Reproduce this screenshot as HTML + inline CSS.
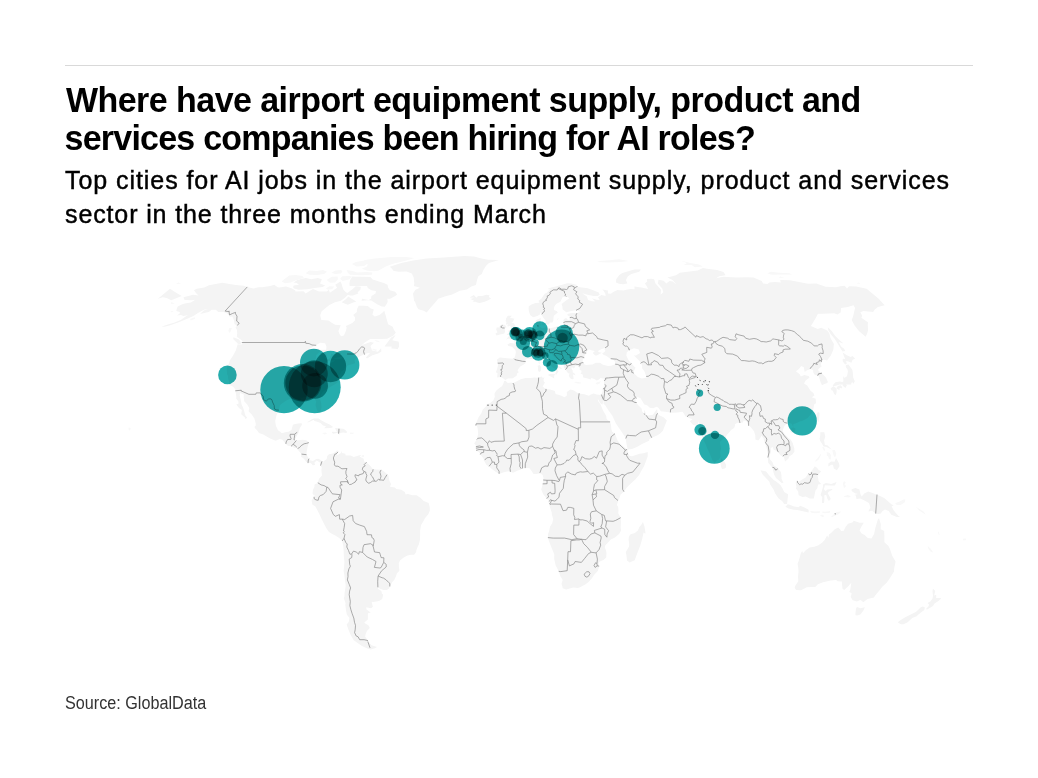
<!DOCTYPE html>
<html><head><meta charset="utf-8">
<style>
html,body{margin:0;padding:0;background:#fff;}
body{width:1038px;height:778px;position:relative;overflow:hidden;font-family:"Liberation Sans",sans-serif;color:#000;}
.rule{position:absolute;left:65px;top:65px;width:908px;height:1px;background:#d9d9d9;}
.t{position:absolute;left:65px;white-space:nowrap;font-weight:bold;font-size:34px;line-height:38px;transform:scaleY(1.03);transform-origin:0 0;}
.s{position:absolute;left:65px;white-space:nowrap;font-size:25px;line-height:32px;-webkit-text-stroke:0.45px #000;}
.src{position:absolute;left:65px;top:692.9px;font-size:18px;line-height:20px;white-space:nowrap;color:#333;transform:scaleX(0.899);transform-origin:0 0;}
.bb circle{mix-blend-mode:multiply;}
#map{isolation:isolate;}
</style></head><body>
<!--MAP--><svg id="map" width="1038" height="778" viewBox="0 0 1038 778" style="position:absolute;left:0;top:0">
<path fill="#f4f4f4" d="M183.6 297.2L193.1 294.8L198.5 295.4L196.2 293.3L193.9 290.2L196.7 288.8L204.3 287.5L209.0 285.3L222.3 282.7L229.4 283.9L235.8 285.1L243.7 285.8L247.3 286.9L253.4 288.5L258.5 287.3L262.3 287.3L270.2 286.0L274.2 284.8L277.7 287.3L279.4 287.5L286.1 286.5L292.1 288.5L295.3 290.5L295.5 291.5L303.5 291.3L305.7 293.6L309.6 291.0L313.0 289.0L319.0 291.5L326.8 291.5L328.9 289.8L329.9 292.8L337.1 287.8L335.2 284.8L340.5 281.4L341.9 284.8L342.4 287.0L343.5 289.8L345.9 292.3L347.4 293.1L352.7 289.0L355.5 286.5L360.8 286.8L360.4 289.8L357.6 292.3L358.3 293.6L353.0 295.4L350.0 295.4L347.9 294.8L344.6 297.9L340.9 300.8L335.0 302.3L329.4 305.0L325.7 307.9L321.7 311.3L320.2 315.3L321.3 320.0L328.4 320.6L331.7 322.8L335.1 324.7L340.7 325.3L338.4 331.1L339.7 334.5L341.2 336.2L343.8 335.4L345.6 331.7L346.7 327.8L345.9 326.1L352.4 323.1L354.9 320.6L355.0 317.3L353.2 315.1L356.8 311.9L357.0 309.2L358.6 305.8L363.8 305.8L367.7 306.0L370.8 308.4L373.8 309.5L372.4 314.6L374.8 316.5L379.5 315.1L382.6 312.4L384.3 310.8L385.7 315.4L386.9 320.0L388.1 324.2L392.7 326.7L393.9 329.7L395.8 332.5L393.5 335.4L387.0 338.8L380.2 339.0L370.2 339.0L364.7 342.5L360.0 346.8L357.2 348.5L362.8 344.8L370.5 341.9L374.0 342.8L370.4 345.9L371.3 348.2L372.1 350.5L377.9 351.7L381.1 348.2L381.4 351.4L378.2 353.4L372.4 355.2L367.0 358.4L365.9 357.5L370.0 353.1L367.0 353.3L364.6 354.3L360.7 356.0L356.8 357.8L354.4 360.7L355.3 363.3L352.1 364.2L349.0 365.1L345.4 366.6L344.1 369.5L341.7 371.7L340.6 370.4L340.9 373.0L339.0 375.7L337.7 377.5L337.8 379.8L337.6 382.6L334.6 384.6L331.0 386.6L327.4 388.7L322.8 392.0L320.4 396.1L320.2 399.7L321.2 402.9L321.5 407.7L320.4 411.8L318.3 412.6L316.8 409.8L315.5 405.0L316.2 401.5L314.4 398.5L313.0 398.0L310.3 399.1L307.9 397.0L304.1 397.3L300.7 397.6L300.4 400.9L297.3 400.6L294.4 399.4L289.6 399.1L286.9 400.3L282.6 402.9L279.9 405.3L278.8 410.4L276.6 415.1L275.2 421.0L275.9 425.8L278.0 430.2L280.5 432.0L281.8 433.3L286.2 432.0L288.5 431.8L291.5 429.9L292.7 425.5L293.3 424.6L298.0 423.4L301.7 423.2L302.0 424.6L299.7 428.4L298.4 432.9L297.1 435.2L294.7 439.9L296.4 440.5L299.5 440.2L302.3 439.8L306.3 440.2L308.8 442.6L307.6 447.0L306.7 451.5L306.5 454.4L308.1 457.3L309.9 460.3L312.9 460.9L315.8 459.3L318.1 458.7L320.8 460.0L322.0 461.3L320.5 465.6L319.9 462.4L316.7 460.4L314.3 462.7L315.2 464.9L312.7 465.3L311.0 463.2L308.0 462.4L306.3 461.9L303.7 458.5L301.0 456.8L301.5 454.1L298.9 450.9L296.9 448.8L297.7 447.6L294.9 447.9L291.0 446.3L287.8 445.7L285.9 443.9L282.2 439.6L279.8 439.1L275.5 440.7L270.8 438.8L267.5 437.1L263.3 434.6L259.0 432.9L257.2 430.5L254.8 428.1L254.6 426.6L255.7 425.8L255.7 423.4L254.4 418.4L251.7 414.5L248.5 411.2L249.3 408.0L247.2 404.4L244.2 401.2L243.7 397.6L243.8 394.6L240.2 392.9L239.7 395.5L241.0 401.2L241.7 405.0L242.7 406.8L243.9 410.1L244.8 413.6L245.4 415.4L247.1 417.8L245.5 419.2L244.9 417.5L241.2 414.2L241.9 410.1L239.0 408.0L236.3 404.6L238.6 403.5L238.3 401.2L236.3 398.8L236.3 396.4L235.8 393.2L235.3 390.8L235.3 389.3L233.4 387.1L231.9 386.0L229.2 384.9L229.4 382.8L228.1 378.6L227.9 375.4L227.1 374.5L226.8 370.7L226.8 367.4L229.1 363.3L229.8 360.4L233.1 355.5L235.8 350.5L237.7 344.2L241.2 344.8L242.9 342.5L242.7 341.6L240.7 339.6L236.8 336.8L237.2 333.4L236.9 329.7L235.5 327.5L237.3 325.5L234.6 324.2L233.9 320.0L232.3 316.5L229.8 316.8L228.6 314.6L226.3 313.0L223.4 311.9L218.2 311.9L215.9 309.7L211.8 309.7L208.8 311.9L206.3 312.4L200.1 314.0L203.8 310.5L208.6 308.7L203.9 309.7L197.6 313.2L193.4 315.9L187.2 318.7L178.7 322.2L171.0 325.0L165.5 326.4L161.4 326.7L168.5 324.2L174.0 322.8L180.7 320.0L186.4 315.9L188.2 315.1L183.7 315.9L180.8 315.1L177.1 315.5L179.9 313.2L179.7 311.9L176.3 311.1L176.9 308.4L177.7 306.6L182.2 304.2L185.0 303.4L190.9 302.6L195.3 299.7L191.3 300.3L185.8 300.0L184.1 299.5L183.6 297.2ZM322.0 461.3L323.4 463.2L323.3 461.5L326.7 459.1L327.2 455.9L329.0 454.3L332.9 453.5L335.8 451.7L337.2 450.1L338.0 452.0L336.4 454.1L337.1 455.0L338.6 454.4L340.7 453.2L341.4 450.9L342.0 452.9L345.3 453.8L345.7 455.6L350.7 455.6L353.7 457.1L356.3 456.2L359.6 455.3L361.6 455.3L359.5 456.5L363.7 458.8L364.1 461.5L366.4 462.4L369.8 465.3L372.7 469.1L376.3 469.4L381.1 469.7L383.9 471.2L386.9 474.1L388.4 475.3L389.3 480.6L391.1 483.9L390.0 486.8L394.9 487.4L396.2 488.9L401.3 489.7L404.8 492.1L405.6 494.5L407.9 493.9L412.7 495.3L416.6 495.2L420.4 497.7L423.7 500.9L428.7 503.0L429.8 507.7L429.8 510.7L428.3 514.2L424.9 518.3L423.7 520.7L421.1 525.1L420.1 530.4L420.1 535.4L420.0 539.6L418.8 544.6L417.7 546.7L416.2 550.5L416.3 551.7L414.1 554.7L411.1 554.7L407.5 555.5L403.7 557.6L400.0 560.6L398.8 563.2L398.9 566.5L399.4 570.7L397.0 573.3L395.9 576.6L394.2 579.9L392.3 581.9L389.8 586.5L389.2 588.4L386.8 590.1L383.6 589.9L379.6 588.6L377.9 587.3L378.2 589.0L381.4 591.1L381.9 593.8L383.2 594.4L382.2 599.1L379.0 601.1L373.3 602.0L371.6 601.7L372.9 606.7L371.1 608.2L366.3 607.3L366.5 609.4L369.6 611.7L370.8 612.6L367.9 613.2L367.9 616.7L367.9 619.6L364.5 622.2L364.5 623.1L368.6 625.4L369.8 628.0L366.9 631.1L365.5 634.6L365.2 636.8L367.9 640.5L369.0 642.5L371.5 645.3L377.1 647.1L374.8 648.3L370.8 649.4L367.3 648.6L362.0 646.1L357.6 643.0L353.8 640.2L350.9 635.4L348.5 629.7L346.6 624.5L348.7 621.9L349.4 618.1L346.8 614.6L346.0 610.3L345.3 605.0L345.6 603.2L343.8 598.2L344.4 596.4L344.7 591.7L345.7 586.1L345.6 584.3L344.7 578.4L344.4 575.4L343.6 571.0L344.1 566.5L344.4 561.8L343.8 556.1L343.7 551.7L343.3 546.4L342.2 541.0L339.2 538.1L335.7 535.7L331.4 533.4L329.0 531.9L326.2 528.0L323.4 522.4L321.7 519.2L319.1 513.6L316.2 508.0L315.4 506.5L312.3 504.5L311.6 500.6L314.1 496.8L315.0 494.2L314.0 495.6L312.5 493.6L313.0 489.7L314.5 486.8L314.5 484.4L317.3 483.3L317.8 482.7L318.9 479.1L322.0 475.6L321.4 470.6L321.7 467.4L320.5 465.6ZM389.8 266.8L401.3 262.9L413.3 260.5L426.6 258.4L443.9 257.4L464.4 256.0L474.0 256.5L481.6 258.4L488.0 259.7L498.9 260.1L489.0 262.9L485.9 266.1L483.4 270.1L481.8 274.0L478.3 276.3L477.1 279.9L475.9 285.1L471.3 286.5L466.9 289.5L459.8 290.8L452.1 294.6L444.7 296.6L438.2 298.7L435.2 302.6L430.3 307.9L426.7 312.4L423.8 310.8L418.4 309.2L416.7 306.6L415.1 302.1L414.1 300.8L413.6 297.4L413.0 293.6L415.4 289.8L420.0 287.8L413.9 286.0L414.3 283.6L414.0 281.1L413.7 277.5L411.8 273.5L406.6 271.5L398.3 271.7L393.4 270.8L392.0 268.7L389.8 266.8ZM505.4 380.1L503.3 378.6L500.7 376.9L497.1 377.5L497.5 373.3L495.9 372.3L497.4 368.0L498.0 365.1L497.6 362.5L496.8 359.8L499.8 357.6L504.9 358.1L509.5 358.5L514.1 358.7L515.3 355.5L515.8 352.3L515.6 350.5L513.3 347.9L511.5 346.5L508.4 345.9L507.5 344.2L510.4 343.0L514.7 343.5L514.1 340.5L515.8 341.5L518.5 341.0L521.6 339.3L521.8 337.1L523.8 336.5L526.3 335.6L527.3 333.9L528.6 331.3L530.1 330.6L533.4 330.0L536.0 329.4L537.2 328.7L537.6 327.2L536.9 325.5L535.7 324.0L535.6 320.8L536.6 319.8L540.8 318.0L540.5 321.4L541.6 321.7L540.2 323.3L539.5 325.5L540.0 326.9L542.2 328.3L544.6 327.8L547.3 326.7L549.2 328.6L553.5 327.5L558.1 326.1L558.9 327.2L561.4 326.9L561.5 325.8L563.6 324.7L563.4 322.5L563.3 320.6L564.0 318.9L566.2 318.1L567.7 319.8L569.6 319.9L569.8 316.5L567.7 315.4L567.4 314.0L570.2 313.2L573.7 313.1L576.9 313.2L578.8 312.2L581.3 312.0L578.6 311.3L577.8 310.0L574.3 310.5L570.3 311.3L566.3 312.3L564.4 310.8L562.6 309.2L562.4 306.6L561.5 303.9L564.8 301.6L567.5 299.5L569.2 298.7L568.1 297.2L566.2 296.6L562.5 297.2L561.5 299.5L560.4 301.8L556.9 303.4L555.1 305.2L554.1 307.3L554.0 310.0L557.0 311.3L557.8 312.7L556.2 313.8L553.9 315.7L553.5 317.8L553.3 320.8L552.4 322.5L549.8 322.5L548.9 324.4L546.3 324.4L545.5 322.5L545.8 320.8L543.5 318.1L541.8 314.9L540.6 312.2L539.9 314.6L537.3 315.9L533.1 317.3L530.1 314.9L528.9 311.3L528.6 308.9L528.8 306.3L531.6 304.4L535.5 302.9L539.4 302.7L538.5 300.8L541.3 298.7L543.1 296.1L544.9 293.6L546.8 292.8L548.5 290.8L550.3 289.5L547.4 289.0L552.0 287.3L554.8 286.8L558.5 285.8L563.1 284.6L567.2 283.2L571.4 283.5L577.5 285.1L574.0 286.5L577.4 286.7L581.9 287.5L587.8 288.3L593.2 290.3L598.7 292.6L599.7 294.8L597.6 295.9L593.7 296.1L587.5 294.8L582.2 293.3L586.9 296.6L588.1 300.0L592.0 301.3L595.3 301.6L591.9 298.3L596.6 299.7L599.7 299.9L598.0 297.2L601.4 295.1L605.7 296.1L605.3 293.6L603.7 291.0L602.3 289.4L607.9 290.5L607.9 293.6L610.9 293.8L613.3 292.0L617.4 290.0L623.5 290.5L626.1 289.8L630.6 289.0L634.6 289.3L634.4 286.5L642.7 287.8L648.1 289.0L646.7 286.0L644.9 283.6L647.2 281.4L646.9 279.0L651.4 278.7L654.1 279.2L655.5 283.6L661.0 289.8L660.6 294.8L663.3 292.3L662.3 288.5L657.8 283.6L658.5 279.7L663.7 280.7L666.3 283.6L669.6 281.1L672.7 281.6L676.6 284.8L672.6 279.9L667.4 277.5L676.0 275.2L679.8 272.8L689.5 271.5L697.7 270.5L702.9 267.9L706.8 268.7L717.0 270.1L723.5 272.1L725.5 275.2L719.2 276.3L716.1 278.2L723.3 276.8L727.2 277.1L736.8 277.5L746.8 277.3L753.5 277.5L761.7 281.1L763.1 283.6L767.4 284.1L769.5 282.4L774.9 282.1L780.8 282.4L780.2 279.9L789.8 280.2L801.6 282.4L808.0 283.8L816.3 283.6L825.7 286.8L830.8 287.0L835.9 287.3L840.4 286.3L844.6 285.8L847.0 288.5L849.1 286.3L856.1 286.5L866.6 288.8L878.7 298.7L880.9 301.3L884.7 305.2L877.9 307.1L874.5 309.7L873.2 311.9L863.4 311.1L860.3 312.2L862.2 315.7L861.4 317.8L867.9 322.2L867.8 325.5L868.0 330.6L867.0 333.9L865.6 336.8L858.9 331.1L854.6 325.5L851.7 320.0L853.0 316.8L854.3 311.3L855.1 307.9L853.5 305.2L847.7 307.1L841.1 307.9L840.7 312.4L837.4 314.6L834.2 313.2L829.2 313.5L823.1 313.8L817.9 313.8L815.9 317.8L813.5 321.7L810.9 326.1L817.7 328.9L821.2 327.8L827.2 330.6L829.4 333.4L830.6 338.2L833.9 343.9L833.3 349.7L830.8 355.5L827.0 360.4L823.5 359.5L821.8 361.6L820.8 364.5L821.7 366.3L818.1 369.2L818.6 371.0L821.6 373.0L825.9 377.5L827.9 381.9L827.2 383.1L824.4 384.0L822.0 385.2L820.5 381.9L819.2 377.5L818.4 375.4L814.9 375.1L813.4 373.0L813.1 370.1L810.4 368.9L806.6 370.4L804.7 372.0L803.8 367.2L801.2 366.0L798.9 368.9L795.9 371.3L799.7 374.2L800.8 376.6L804.5 375.1L809.0 376.3L809.4 377.8L805.6 380.4L804.0 383.4L807.2 385.5L810.3 390.5L813.6 393.2L814.4 395.5L811.8 397.3L815.7 398.8L816.0 403.2L814.1 404.4L813.2 410.1L811.6 413.6L810.4 414.8L807.7 418.1L802.1 421.0L800.4 421.3L796.6 423.1L793.3 424.3L793.3 426.9L791.7 423.7L788.6 422.8L787.2 423.4L784.6 425.5L782.8 429.9L783.2 432.0L785.7 435.2L788.9 438.5L790.6 439.4L792.8 443.2L794.3 448.5L794.4 451.7L792.3 454.4L789.2 456.5L788.4 458.8L785.1 461.5L784.0 457.6L782.6 456.2L780.6 455.6L778.8 453.2L778.5 452.0L776.8 450.9L773.4 449.4L772.9 447.0L770.7 447.9L771.1 451.5L769.4 455.9L770.0 459.4L772.4 462.1L773.7 465.6L776.6 467.1L777.9 468.5L780.9 472.1L781.4 475.0L781.6 478.9L783.4 482.7L781.7 483.0L778.6 480.3L776.0 478.0L774.1 474.4L773.2 470.9L772.5 467.7L771.2 466.2L768.2 462.7L767.9 458.2L768.2 456.2L767.5 451.5L765.9 445.6L764.1 440.8L763.5 438.2L761.4 435.8L760.0 438.2L758.3 440.5L755.4 439.6L755.3 435.2L754.1 431.4L751.9 428.4L749.8 426.3L748.1 424.9L746.5 421.0L743.4 420.4L743.0 422.5L739.8 422.8L737.3 422.8L735.0 424.3L735.0 425.8L734.1 428.1L731.1 429.9L728.7 432.9L727.2 434.6L725.0 437.9L722.5 439.6L719.9 442.0L720.7 447.0L721.0 448.2L720.1 452.3L720.6 456.5L719.0 459.4L716.6 460.6L714.9 462.9L712.5 460.6L711.3 457.5L709.5 452.9L707.4 448.8L705.5 444.1L704.0 441.1L702.3 436.7L700.4 430.8L699.7 426.9L699.2 424.3L698.7 421.0L697.9 424.0L695.3 425.6L693.2 424.9L689.8 421.3L692.5 419.2L688.9 418.1L687.3 416.9L685.2 416.3L683.9 413.6L682.4 411.8L677.5 412.4L671.4 412.7L670.4 412.4L665.1 411.8L660.8 411.2L658.4 407.7L656.6 406.8L653.1 408.3L649.8 407.7L647.1 405.3L644.3 404.4L642.5 401.5L640.6 398.2L637.5 397.0L636.7 398.2L635.4 399.4L636.2 402.3L638.0 405.0L641.6 408.6L642.1 411.2L643.8 413.6L644.4 409.8L645.7 413.0L646.0 415.1L648.5 415.4L652.9 414.8L654.8 412.1L656.5 409.8L657.1 409.0L657.6 413.0L658.6 415.1L663.5 417.2L666.9 420.4L664.7 426.0L662.9 430.8L659.9 433.7L657.0 435.5L654.1 436.7L649.5 439.1L649.1 440.8L642.0 444.1L636.9 447.0L631.9 449.1L628.2 449.4L627.3 447.6L626.4 443.2L625.6 438.5L625.0 437.0L620.9 430.8L615.9 423.4L612.4 415.7L608.2 410.1L605.4 405.6L603.5 403.8L603.7 399.7L602.6 404.1L602.4 404.7L600.3 403.2L597.7 398.5L596.7 394.5L600.4 394.9L601.5 394.3L602.3 392.3L602.8 389.9L603.7 386.6L604.4 384.0L603.6 379.5L604.4 378.4L602.8 378.6L600.6 378.1L598.2 380.1L596.6 380.4L594.5 378.9L591.3 377.9L590.8 379.5L587.6 378.4L585.6 377.9L583.2 377.5L582.7 374.5L580.5 373.6L581.5 372.2L581.4 370.4L579.7 370.1L579.8 368.5L579.2 366.9L579.1 366.1L577.0 366.0L575.3 366.0L574.6 367.7L573.2 368.6L572.2 367.2L571.9 366.9L571.4 368.6L572.9 371.0L572.5 371.9L575.1 373.9L575.3 375.4L573.9 374.5L572.8 374.8L573.4 376.3L573.6 379.1L571.9 379.2L569.9 378.1L568.8 375.4L569.6 373.6L568.2 373.3L567.1 371.9L565.8 369.8L563.7 367.3L563.8 364.8L563.4 363.0L561.3 361.6L559.0 359.8L556.2 358.4L553.3 356.3L551.3 353.1L550.2 354.6L549.2 352.6L549.6 352.0L546.5 353.1L546.6 356.0L549.5 358.1L551.3 361.3L553.7 363.0L556.0 363.0L555.4 364.2L558.0 365.7L561.7 368.3L561.3 369.2L558.6 367.3L557.3 368.9L557.1 369.5L558.6 371.6L557.3 373.3L556.2 374.8L555.3 374.2L555.6 372.7L556.2 371.3L554.9 368.6L553.5 368.0L551.8 366.4L548.6 365.0L546.7 363.5L544.1 361.6L542.6 359.8L542.1 358.4L540.9 356.8L538.8 355.7L535.6 357.5L533.6 359.2L530.8 359.0L527.5 358.4L525.5 359.8L525.5 361.6L525.7 363.0L523.4 364.7L520.2 366.6L518.3 368.9L517.6 370.4L518.8 372.3L517.1 373.6L516.6 375.7L513.8 377.6L513.1 378.2L507.8 378.4L505.4 380.1ZM597.7 398.5L598.2 401.2L600.7 404.7L601.6 407.1L602.8 410.1L606.2 416.0L606.6 418.9L610.1 421.9L611.0 424.9L611.3 429.0L612.2 431.7L615.0 433.7L617.7 440.8L619.5 442.9L622.2 445.6L625.3 447.9L627.7 450.3L627.6 452.9L628.3 453.8L629.7 456.0L632.2 456.2L636.0 455.0L639.7 453.8L643.5 453.2L647.7 451.9L647.7 456.2L646.3 460.3L644.0 466.2L641.5 470.6L639.1 475.0L635.3 479.4L633.6 480.9L629.0 485.3L626.4 488.0L623.9 491.8L620.6 494.5L619.2 498.7L617.9 501.5L616.9 505.1L618.1 506.8L618.5 510.4L618.2 513.3L620.6 517.4L620.9 522.1L620.7 528.0L621.1 530.4L619.1 534.0L614.9 537.5L610.8 539.6L607.1 543.4L605.3 545.3L604.8 547.6L606.1 550.8L606.5 553.2L606.2 557.6L603.5 560.0L599.7 561.5L598.6 563.5L599.2 566.2L597.8 571.0L594.0 575.1L591.6 578.7L588.2 582.2L585.6 584.3L580.0 587.3L577.9 587.9L573.6 587.6L571.4 587.9L566.2 589.6L563.4 588.4L562.6 588.3L562.5 587.0L561.5 583.7L562.7 580.1L560.4 576.3L558.7 571.3L555.7 565.6L554.2 559.1L554.3 554.4L551.7 548.1L549.6 542.8L547.9 537.8L548.0 534.0L549.0 531.6L550.1 526.6L552.2 523.3L553.2 519.2L551.8 514.2L551.8 512.7L550.0 507.4L549.5 504.8L549.3 501.5L548.3 500.3L546.3 498.0L543.2 494.2L541.2 489.2L542.0 486.8L542.3 485.6L542.7 483.6L543.2 480.0L543.5 478.0L542.7 475.3L540.9 473.6L539.4 473.4L536.1 474.0L533.6 474.1L531.0 470.3L529.5 468.3L526.9 468.0L524.4 468.3L521.3 468.8L520.6 469.7L517.8 470.6L513.7 472.5L513.0 472.8L510.4 471.8L508.1 471.3L503.0 472.4L499.2 474.0L495.2 471.5L490.9 468.3L489.1 466.5L486.6 465.0L484.7 461.9L483.6 458.8L480.8 455.0L478.9 451.9L476.1 450.4L475.9 448.2L475.9 445.6L474.2 443.5L476.8 439.6L478.2 433.7L477.8 429.3L477.1 426.3L475.8 425.5L476.0 423.4L478.7 416.9L481.5 413.0L482.6 409.8L485.9 406.5L486.7 404.3L490.1 403.2L493.4 400.3L494.8 397.0L494.5 393.7L496.1 390.8L500.0 387.5L502.0 386.2L503.4 383.4L504.2 381.0L505.6 380.7L507.8 382.9L511.1 382.5L513.0 383.1L515.4 381.9L516.9 381.2L520.7 379.2L525.6 378.1L530.4 378.1L534.7 377.5L536.8 377.8L538.7 377.6L541.8 376.6L542.8 377.9L544.6 377.3L543.6 379.2L543.6 381.0L544.9 382.8L544.1 384.1L542.6 386.6L545.0 388.4L546.0 388.9L550.2 389.6L554.8 391.1L555.6 394.0L560.8 395.5L564.5 397.3L566.9 395.5L566.8 392.0L570.4 389.6L574.1 390.5L576.4 392.3L579.1 393.5L584.3 394.2L588.8 395.7L590.9 394.6L593.4 393.6L596.7 394.5ZM879.0 518.3L880.8 523.9L880.7 529.2L884.2 531.0L884.4 536.6L884.4 542.2L888.5 546.1L890.0 549.0L892.2 555.8L895.6 561.5L894.3 567.7L894.0 571.4L890.0 578.1L886.9 582.5L882.3 586.7L879.4 590.5L875.0 595.8L874.0 597.6L867.5 599.1L863.3 602.3L861.0 600.3L860.2 600.0L856.9 601.4L852.7 600.3L850.7 597.0L851.7 593.2L849.3 592.0L850.3 589.6L851.0 584.9L851.3 582.8L848.0 586.4L844.2 589.9L842.5 588.7L842.0 584.3L841.8 581.6L837.8 581.3L836.1 579.9L830.8 580.4L823.0 582.2L817.9 584.3L815.3 587.0L811.4 587.0L806.8 587.3L800.9 590.2L796.2 589.9L794.7 588.1L795.1 586.1L798.3 581.3L798.0 576.9L798.5 571.8L798.3 568.0L797.6 563.8L798.9 560.3L800.1 556.1L800.7 553.5L802.3 551.1L803.0 553.2L805.8 550.2L809.6 547.6L814.3 546.7L818.0 545.5L822.3 542.5L824.6 539.9L827.1 535.4L828.4 537.8L829.0 534.5L831.6 532.5L834.5 529.5L838.1 527.5L840.3 529.5L841.1 531.0L843.7 530.7L845.5 526.9L847.6 524.2L848.7 523.5L852.4 522.4L853.7 520.7L855.8 521.6L859.5 522.7L863.8 522.7L861.4 526.6L859.6 530.4L861.6 533.4L864.6 535.1L867.8 538.1L871.5 538.4L874.1 534.0L875.3 528.0L876.5 523.9L877.9 519.2ZM170.0 288.8L175.4 292.3L181.7 295.9L171.2 300.3L166.8 297.9L162.7 297.2L157.9 298.7ZM856.9 607.0L860.5 608.2L864.9 607.3L863.3 610.8L860.4 614.4L857.2 615.5L855.5 615.2L855.5 612.3L856.0 608.8ZM932.9 588.4L935.3 591.1L934.1 595.5L936.3 594.7L936.1 597.9L939.9 597.9L941.4 598.2L938.5 601.1L934.5 603.5L933.0 605.9L926.8 609.7L926.2 608.8L928.6 606.2L929.0 604.4L927.5 602.9L930.3 601.4L932.5 598.5L933.0 595.8L932.5 591.4ZM922.8 606.4L924.9 607.6L924.3 610.0L921.6 612.0L917.2 615.5L917.3 616.1L912.2 617.9L907.7 622.2L903.6 624.2L901.1 624.2L898.0 622.8L898.6 621.6L903.9 618.1L906.7 616.4L911.7 614.1L915.8 612.0L918.0 610.0L920.8 607.3ZM851.6 489.2L855.5 488.0L859.4 489.4L860.5 494.2L861.7 496.5L864.3 493.6L868.2 491.5L871.9 492.7L876.2 494.5L880.7 496.2L884.5 498.3L888.8 502.1L891.7 504.5L893.7 505.3L891.6 506.5L893.8 510.4L896.0 513.3L898.3 515.7L900.1 517.1L896.9 517.1L891.3 514.8L888.7 510.9L885.0 509.5L882.3 511.2L880.8 513.6L878.2 513.9L875.7 513.6L872.2 510.7L868.3 511.5L870.4 507.4L869.0 503.0L864.0 500.3L860.3 498.6L856.5 498.9L855.8 495.6L854.1 495.0L857.9 493.9L854.9 493.3L851.6 490.9ZM796.4 486.8L795.6 482.4L797.1 480.9L798.9 481.8L801.7 479.7L805.7 477.4L808.1 473.8L810.6 472.1L813.0 469.1L814.8 466.2L817.2 468.0L818.4 469.7L821.2 471.2L819.1 473.8L817.3 474.7L818.2 478.0L818.5 480.9L821.1 483.9L818.1 484.4L817.3 488.3L815.5 490.6L814.7 494.2L813.8 498.6L809.7 498.6L805.7 496.5L802.6 497.1L798.6 495.3L798.2 491.5L795.9 488.6ZM760.5 470.3L766.1 471.5L769.3 475.6L773.7 480.0L776.5 481.8L780.4 485.0L782.4 488.3L784.2 492.1L788.0 494.2L787.9 496.2L787.5 500.0L787.1 503.9L784.1 503.9L782.6 501.5L778.4 498.3L775.2 493.6L773.6 489.6L770.2 484.4L769.4 481.8L765.5 477.4L762.6 474.4ZM785.4 506.8L787.8 504.3L789.6 504.8L794.1 506.5L798.6 507.3L800.2 505.8L804.4 507.4L808.6 509.8L808.6 512.4L804.1 511.5L797.4 510.1L793.6 509.8L788.6 508.6ZM823.1 484.4L825.9 483.0L831.3 484.0L836.6 482.1L834.9 485.6L830.0 485.5L824.9 485.3L823.9 489.2L825.5 490.9L827.5 489.4L832.1 488.9L832.3 489.7L828.7 491.8L827.7 493.3L829.6 496.5L830.8 498.9L828.9 500.9L827.5 498.9L826.1 494.7L824.3 495.3L824.4 500.0L824.0 503.0L822.0 503.0L822.2 497.1L820.5 495.0L821.6 492.1L822.9 487.1ZM820.3 432.3L824.3 432.3L825.3 436.7L824.1 440.2L824.8 444.7L827.7 445.6L831.8 449.7L829.6 448.5L826.1 446.7L823.5 446.4L822.2 444.1L820.2 441.1L819.6 438.8L820.3 435.2ZM836.0 457.9L839.0 463.2L839.5 466.2L838.3 468.3L836.9 470.3L833.8 468.5L833.0 464.7L831.2 464.7L828.3 466.5L828.4 463.5L831.2 461.5L834.6 461.8ZM845.9 365.1L848.4 364.5L851.4 368.6L852.4 370.1L852.9 373.6L853.2 377.5L854.8 381.3L853.4 383.7L852.3 381.9L851.3 383.1L851.2 384.6L849.8 384.6L846.9 384.6L846.2 383.4L846.8 385.5L845.4 388.0L842.8 385.7L842.8 384.4L839.7 384.6L836.5 385.5L833.0 386.5L832.8 385.2L835.4 382.2L839.7 381.6L842.2 381.9L843.4 381.5L843.2 377.5L844.0 376.0L844.2 378.1L847.0 376.3L847.4 374.5L847.9 371.6L847.5 369.5L845.8 366.9ZM845.1 364.5L847.1 363.3L845.5 361.3L847.8 361.3L851.4 362.8L852.6 359.8L855.2 358.7L852.5 356.0L850.7 356.9L846.8 355.2L842.7 352.6L843.7 355.5L845.2 359.0L842.7 358.8L842.7 361.3ZM833.1 386.6L835.3 387.5L836.7 389.3L836.6 392.6L835.7 395.2L834.1 394.0L832.9 390.8L831.5 390.2L830.6 388.4L832.1 387.2ZM836.3 388.3L837.9 386.0L840.5 385.3L842.3 386.9L841.8 388.6L839.8 387.8L839.4 390.0L837.7 389.3ZM827.8 327.2L831.7 331.1L834.9 335.4L838.9 339.6L843.5 343.5L838.6 341.9L841.3 346.8L844.1 348.8L845.3 351.1L842.5 351.4L839.5 346.8L837.0 342.5L834.2 338.2L830.6 333.9L828.3 330.3ZM818.2 412.1L819.6 413.0L819.4 416.0L818.8 420.1L818.9 422.2L816.6 419.2L815.9 417.2L816.7 414.2L817.1 413.0ZM790.1 430.2L791.7 427.8L793.7 427.5L795.6 428.7L794.8 431.4L792.6 433.1L790.5 432.3ZM721.0 457.9L723.4 460.6L724.5 461.8L726.1 465.0L725.8 467.7L724.1 468.8L722.0 469.1L721.0 466.5L720.6 463.2L720.9 460.3ZM642.9 522.1L644.5 526.6L645.4 531.9L645.3 533.7L643.6 532.5L642.1 539.3L640.2 545.8L637.6 552.3L634.7 560.3L629.6 562.4L627.0 560.6L626.5 555.7L625.8 552.0L628.9 546.7L629.3 544.3L628.6 539.9L628.8 536.9L630.2 534.5L634.8 533.1L637.9 530.4L639.4 526.9L641.5 524.5ZM505.6 339.5L509.0 338.6L510.2 339.0L513.9 337.9L515.6 337.6L518.9 337.5L521.3 336.4L521.4 335.6L519.8 335.4L522.1 332.2L521.1 331.3L519.0 331.4L518.5 329.7L518.1 329.4L518.1 328.0L515.7 326.7L515.1 325.5L514.0 323.3L511.2 322.8L512.7 321.9L513.8 319.8L514.5 318.7L510.9 318.1L509.6 318.5L511.8 315.7L507.8 315.7L507.1 316.8L506.0 318.7L506.1 320.6L505.1 320.8L506.5 321.9L505.9 324.7L508.0 323.9L507.3 325.8L507.8 326.6L510.7 325.8L510.5 326.9L511.8 328.0L511.6 330.0L508.3 330.3L508.9 331.4L507.9 331.7L509.3 332.8L506.7 334.2L507.0 334.9L509.0 335.1L511.7 335.4L512.3 335.1L511.2 336.2L509.0 336.2L508.2 336.8L507.1 338.5ZM504.8 330.3L505.2 331.3L504.3 333.5L500.0 334.5L496.6 335.5L495.4 333.7L497.5 332.2L496.2 329.7L496.6 327.5L499.6 327.5L499.5 326.4L500.4 325.1L502.6 324.6L505.1 325.0L506.5 327.2L504.8 328.3ZM472.4 301.8L474.2 300.8L470.2 299.0L474.4 297.7L469.5 297.4L473.8 295.0L476.4 297.7L478.0 295.9L482.2 295.9L486.3 294.8L489.5 295.2L488.8 296.9L491.1 298.4L487.7 300.6L484.7 301.8L479.8 302.9L477.2 302.5L475.4 301.7ZM616.0 282.4L616.2 279.2L619.1 275.2L621.9 273.3L626.6 271.7L634.4 269.6L640.9 269.4L639.2 271.7L631.4 274.0L627.9 276.3L625.9 279.9L627.4 283.6L623.0 284.3L619.0 283.8ZM384.8 306.8L387.3 303.1L387.7 301.3L387.2 298.7L390.2 298.7L395.2 296.1L397.2 294.6L395.1 291.8L389.9 290.3L388.2 287.8L387.5 284.8L383.8 283.1L378.9 281.6L374.3 279.9L372.7 279.4L370.4 277.1L361.3 276.8L355.8 276.8L352.3 276.6L350.1 279.9L349.4 283.6L349.7 286.0L354.5 286.0L356.3 286.3L361.2 286.0L367.0 286.0L367.8 288.0L371.4 290.3L375.9 291.0L375.6 293.6L371.4 296.1L371.1 298.7L368.5 300.0L362.1 298.7L361.5 300.8L367.4 300.3L371.3 300.5L374.4 302.6L377.6 304.4L381.9 306.6ZM294.0 288.5L298.8 289.8L307.0 289.3L314.7 288.0L322.6 287.0L325.2 285.5L320.0 283.6L321.9 279.2L317.9 278.0L311.3 279.2L305.8 278.0L297.8 279.7L293.5 282.4L296.7 283.1L299.0 284.8L293.6 285.5L293.1 287.3ZM348.4 296.4L350.5 297.9L355.0 300.8L356.1 301.8L353.1 302.6L347.9 304.7L344.6 303.4L341.7 302.3L345.8 299.2ZM384.5 346.5L388.6 341.0L391.1 337.6L395.7 335.1L392.2 340.2L395.3 341.0L398.5 341.6L399.0 343.3L399.1 346.6L397.6 349.2L395.2 348.8L391.4 348.5L391.7 346.5L388.3 346.5ZM233.4 337.3L239.0 339.5L240.7 341.9L240.8 344.2L237.9 343.8L236.2 342.0L233.3 339.3ZM307.0 422.3L312.3 418.9L313.9 418.5L318.6 418.6L322.0 420.7L326.2 422.9L329.7 424.6L333.2 427.1L331.0 428.1L324.2 428.3L326.0 426.3L323.1 425.5L320.4 423.1L318.1 421.9L314.3 421.0L313.9 419.8L310.7 421.3L308.6 422.2ZM331.8 432.7L332.3 431.8L337.0 432.1L336.2 430.5L335.0 428.3L336.5 428.0L339.2 428.6L343.4 428.7L345.3 429.9L347.2 432.0L346.2 433.1L343.3 432.4L340.4 433.1L339.2 434.9L338.4 433.6L336.7 433.1L333.3 433.7ZM547.8 375.1L549.9 374.1L555.1 373.9L554.1 376.0L554.2 378.5L552.2 377.3ZM539.8 365.0L541.3 367.2L540.8 371.1L539.2 371.9L538.1 370.7L538.0 367.7L537.5 365.8Z"/>
<path fill="#f8f8f8" d="M178.3 282.4L181.1 283.6L176.0 284.1ZM170.8 302.1L174.9 303.4L171.3 303.9ZM170.2 311.3L173.6 311.1L171.9 312.4ZM895.1 503.3L899.6 501.5L903.5 499.5L905.5 499.5L904.6 502.4L900.6 505.1L896.8 505.1ZM810.0 510.9L811.8 510.9L814.3 511.5L820.2 511.2L819.5 513.0L814.9 513.3L811.4 512.7ZM822.2 511.5L825.2 511.8L830.3 510.9L829.7 512.7L825.1 513.3L822.3 512.7ZM831.0 517.1L833.9 513.9L836.6 512.1L841.2 511.5L838.9 513.9L835.0 515.7L832.3 517.1ZM819.8 515.1L823.1 514.8L824.2 516.5L822.2 517.1ZM842.7 483.9L844.0 480.9L845.8 482.4L844.5 484.4L846.1 485.9L844.0 488.3L843.5 485.9ZM843.9 496.2L847.7 495.0L851.0 496.2L848.9 497.4L844.6 497.1ZM832.3 450.0L834.8 450.0L836.3 453.8L835.4 456.8L834.1 456.8L833.0 453.5ZM826.7 452.0L829.6 452.9L830.9 455.0L830.8 459.4L829.0 459.1L828.2 456.2L826.9 455.9ZM815.6 462.1L818.6 459.4L820.8 455.6L821.1 453.2L820.0 455.0L817.7 457.9L815.4 460.6ZM822.1 447.3L824.1 447.3L825.2 450.0L824.1 450.9ZM683.9 265.0L687.0 262.9L680.0 260.5L690.4 262.9L698.9 264.4L702.9 266.5L694.7 267.2L691.7 265.0ZM767.4 273.3L770.9 271.7L779.5 272.8L789.2 273.3L792.4 274.5L779.6 274.5L774.4 274.7L770.5 274.5ZM778.5 277.5L784.6 278.0L780.2 276.6ZM856.7 283.3L858.3 282.4L860.6 284.1ZM596.9 261.9L607.6 262.5L621.0 262.1L628.7 260.9L619.0 259.3L609.6 260.3L599.9 261.1ZM285.1 283.3L290.7 282.4L296.6 279.9L304.0 278.0L302.4 275.9L295.8 274.9L289.2 275.6L284.2 279.2L281.6 281.4ZM374.3 271.2L378.2 270.8L386.8 266.1L393.9 263.5L404.5 260.9L414.5 258.0L406.2 257.1L391.6 256.9L374.8 258.5L364.9 259.9L361.0 261.9L367.6 264.0L367.1 266.5L361.8 268.7L367.4 270.8ZM368.2 263.3L364.2 260.5L355.9 261.9L352.0 264.0L356.6 266.5L364.0 266.1ZM371.9 274.7L372.4 272.6L366.4 272.1L357.0 272.6L352.8 271.0L346.6 269.9L347.8 272.8L350.0 274.7L360.6 275.2ZM349.5 279.2L342.5 281.1L340.2 278.7L342.3 276.3L349.1 275.9L352.1 276.8ZM335.1 282.4L330.0 282.8L326.6 279.9L331.8 276.8L337.5 276.6L337.9 279.2ZM324.1 274.0L316.8 274.9L309.7 274.7L305.6 273.3L309.2 270.5L316.9 271.0L323.1 270.1L327.0 271.7ZM340.9 273.5L335.0 274.0L331.4 272.8L335.3 270.5L341.2 269.9L342.4 271.7ZM332.4 289.0L328.0 289.8L325.9 288.5L329.4 286.3L334.1 286.5ZM374.4 339.9L378.6 340.8L380.0 342.2L376.1 341.6ZM372.4 348.5L377.3 349.8L375.8 351.1L372.7 349.9ZM229.5 327.8L231.9 328.3L229.9 333.1L228.3 331.1ZM190.1 318.9L194.7 317.3L195.2 318.7L190.8 320.6ZM322.0 432.9L325.5 432.4L327.3 433.7L324.5 434.5ZM350.0 432.4L354.0 432.7L353.1 433.9L349.9 433.9ZM361.5 457.2L363.8 457.1L364.2 455.0L362.1 455.3ZM540.1 359.8L540.5 362.5L539.8 364.5L538.3 362.8L538.5 361.0ZM574.5 381.9L576.1 381.8L581.2 382.6L580.8 383.4L577.5 383.5L574.5 382.6ZM595.6 383.2L597.2 382.3L600.9 381.3L599.7 383.4L597.5 384.6L596.0 384.1ZM541.9 323.6L544.7 322.5L545.4 323.9L544.2 325.8L542.2 325.0ZM539.4 324.2L541.3 324.2L541.4 325.3L539.9 325.3ZM556.8 319.5L558.5 317.6L558.3 319.2L557.3 320.2ZM927.7 546.1L930.7 548.7L933.3 552.6L931.0 552.0L928.3 548.7ZM128.9 427.2L131.0 428.7L129.0 430.8L128.5 429.0ZM915.7 506.5L918.1 508.3L923.6 511.5L925.8 514.5L923.4 513.3L919.2 510.4ZM963.0 538.7L966.0 538.4L965.8 540.2L962.8 540.2ZM937.8 531.0L939.0 532.5L939.6 535.4L938.6 534.5Z"/>
<path fill="#fff" d="M628.3 359.8L626.3 355.5L626.8 352.3L629.8 349.9L634.0 348.2L638.8 349.4L640.1 353.1L636.0 355.5L633.9 355.5L636.5 357.9L639.7 361.3L641.8 365.1L642.2 368.6L644.3 371.0L646.7 377.5L642.0 378.4L637.8 376.9L633.9 373.3L634.1 370.7L635.5 367.6L634.1 366.6L630.6 362.5ZM586.2 365.1L592.5 364.4L595.8 362.8L599.9 362.8L603.0 364.8L608.1 366.0L611.1 365.7L615.1 364.2L614.9 361.6L613.2 359.8L610.0 358.4L606.1 355.7L603.9 354.9L602.1 353.4L604.2 352.3L605.4 350.8L604.2 349.1L607.3 347.6L604.9 347.9L601.9 349.1L598.5 350.5L598.2 352.0L601.8 352.8L599.4 354.0L596.9 355.5L595.1 355.5L592.7 353.0L594.9 351.1L591.2 350.2L589.9 349.4L588.1 349.7L586.2 352.8L584.3 356.5L584.4 358.7L582.8 359.2L582.6 361.3L583.4 362.8L584.1 364.2ZM309.1 348.9L312.6 349.4L318.6 348.5L319.5 349.7L326.1 349.7L326.5 346.8L325.1 343.3L320.2 342.8L317.6 344.2L313.8 346.2ZM314.2 363.6L317.2 362.5L319.0 358.4L320.4 354.9L324.8 351.7L319.6 352.0L316.2 355.2L316.0 358.4L314.3 361.3ZM325.0 351.7L326.9 355.5L325.0 357.8L327.4 359.8L329.6 358.4L331.5 353.3L334.5 355.5L335.4 352.6L332.6 350.8L328.1 350.5ZM324.0 363.6L327.8 364.2L332.3 362.3L335.5 360.3L332.4 360.6L329.3 361.0L325.1 362.5ZM333.8 359.0L338.9 359.1L341.6 358.5L342.8 356.6L339.7 357.1L335.1 357.9Z"/>
<path fill="none" stroke="#808080" stroke-width="0.65" stroke-linejoin="round" d="M241.8 342.5L304.9 342.5L305.4 341.3L305.8 343.3L309.2 343.6L312.0 345.0L316.2 345.3M347.1 354.0L354.4 354.0L354.8 353.3L356.3 352.8L357.9 351.4L359.3 349.1L361.7 346.9L363.7 347.2L364.6 348.1L363.6 351.4L364.0 353.1L364.6 354.6M247.3 286.9L225.1 311.1L228.7 311.6L229.0 310.9L229.5 314.9L232.7 313.4L235.5 312.4L235.5 313.8L237.0 316.2L236.7 321.1L239.2 323.1L237.3 325.5M235.3 390.8L241.3 390.2L240.9 390.8L248.9 394.3L255.8 394.3L256.2 392.9L260.3 392.9L263.2 396.4L263.6 399.7L266.3 401.2L268.4 398.9L271.1 398.9L272.0 400.1L272.5 402.0L274.2 405.5L274.4 408.9L276.4 409.9L278.9 410.2M285.9 443.9L286.2 441.9L287.6 439.5L290.9 439.4L291.1 438.5L290.0 436.0L290.2 434.3L294.8 434.3L294.0 439.9L294.7 439.9M294.9 433.9L297.2 432.3M296.4 440.5L293.1 444.3L291.0 446.3M293.1 444.3L295.1 445.6L296.9 447.3M297.6 448.5L299.5 447.6L301.2 445.6L304.1 443.8L306.7 443.3L308.8 442.6M301.5 454.1L304.0 454.4L306.5 454.7M308.0 463.1L308.3 460.0L309.1 458.7M322.0 461.3L320.5 465.6M339.0 428.7L338.8 432.0L338.5 433.6M338.0 451.9L336.1 454.0L334.9 454.1L333.4 457.9L333.8 460.0L334.7 462.1L334.4 464.9L335.5 466.2L338.0 466.2L341.9 468.8L347.0 468.5L345.9 471.2L345.9 473.6L347.1 476.8L345.7 478.6L347.3 480.0L348.2 483.2M348.2 483.2L347.6 481.6L340.6 481.8L340.6 483.7L342.3 484.9L340.0 485.2L340.0 487.2L341.7 490.0L340.4 499.2M340.4 499.2L338.5 498.0L340.1 494.7L332.8 493.9L332.1 493.6L328.0 487.4L326.8 487.2M326.8 487.2L324.1 485.6L321.1 484.9L317.8 482.7M326.8 487.2L326.1 491.4L323.3 494.5L320.3 495.6L319.0 496.8L318.2 500.3L315.9 499.9L314.1 498.6L314.1 496.8M340.4 499.2L338.3 499.2L333.0 501.8L330.6 508.4L333.3 514.5L335.4 516.3L339.4 514.6L339.7 519.2L342.2 519.1M342.2 519.1L344.7 523.6L344.2 527.2L343.5 531.0L344.4 531.7L343.2 532.8L344.9 534.5L344.0 538.4M344.0 538.4L342.2 540.9M344.0 538.4L345.8 542.5L347.2 544.0L346.8 547.0L348.5 550.5L349.9 554.2L351.5 554.1M351.5 554.1L353.5 551.1L356.2 552.0L358.7 554.2L359.3 551.7L362.6 552.4M362.6 552.4L363.0 547.4L364.0 544.7L370.5 543.7L373.0 545.2L373.1 546.2M342.2 519.1L344.7 519.5L349.6 516.0L352.6 515.4L353.2 520.7L355.6 523.5L359.7 525.1L364.4 526.6L366.6 531.3L367.0 534.7L371.5 534.8L371.9 537.6L373.5 538.5L374.2 540.5L373.8 543.0L373.1 546.2M373.1 546.2L374.5 552.0L379.6 552.6L380.3 554.7L381.1 557.6L383.9 557.8L383.7 562.4M362.6 552.4L367.2 557.0L372.4 559.4L376.0 561.5L374.4 567.4L379.9 568.0L381.1 567.5L383.7 562.4M383.7 562.4L386.2 564.3L386.2 567.0L381.7 570.7L378.1 576.0M378.1 576.0L382.2 577.8L383.2 577.9L386.2 579.9L388.7 582.5L389.8 583.4L389.8 586.5M378.1 576.0L377.7 581.3L377.9 587.3M351.5 554.1L352.0 554.7L351.7 557.6L349.2 559.1L349.7 564.4L350.4 566.2L348.9 568.9L347.9 573.0L348.0 576.6L347.4 579.9L349.2 584.3L350.6 587.9L349.6 591.1L349.2 594.7L350.3 601.4L349.9 605.6L350.8 609.4L352.2 613.8L353.8 618.1L354.5 622.2L355.5 625.4L355.2 629.7L354.6 632.6L356.2 636.0L358.1 636.8L359.7 639.7L364.1 639.7L368.0 640.6M367.8 641.5L370.0 647.8M348.2 483.2L349.6 484.6L351.6 484.2L352.9 483.3L355.2 482.1L355.5 480.9L357.0 480.0L355.0 476.2L355.1 474.7L358.6 475.9L358.9 474.9L363.2 473.6L363.9 471.5M363.9 471.5L362.3 469.3L363.0 467.1L365.2 465.9L364.2 464.6L366.6 462.2M363.9 471.5L365.8 472.1L365.9 473.6L366.9 475.2L365.9 479.1L365.8 480.0L366.5 481.6L368.7 483.3L370.7 482.4L372.5 481.1L374.6 481.1M374.6 481.1L372.6 476.9L370.7 475.0L371.2 473.1L372.7 471.5L373.1 469.3M374.6 481.1L376.1 481.4L378.4 479.3L379.4 479.9M379.4 479.9L380.4 478.6L381.0 476.2L379.9 472.1L381.1 469.9M379.4 479.9L381.4 480.0L383.7 480.3L385.1 477.7L387.0 474.7M541.8 314.3L542.8 313.0L543.1 312.2L544.3 311.6L544.5 310.5L543.7 309.2L544.8 308.3L543.3 307.3L543.5 305.8L542.8 303.9L543.0 302.6L544.9 301.0L546.7 300.1L545.8 299.7L547.3 297.9L547.3 295.9L549.0 295.4L550.5 293.1L549.8 292.3L552.0 290.8L553.5 289.8L557.2 290.0L558.0 288.4M558.0 288.4L561.0 289.8L564.5 291.3L564.5 293.1L565.6 294.1L565.1 295.4L566.3 296.6M558.0 288.4L559.4 287.8L561.7 289.3L564.2 289.2L566.6 289.5L568.0 288.5L568.2 286.8L571.7 285.8L574.2 286.8L574.2 288.4M574.2 288.4L576.1 286.9L577.5 286.5M574.2 288.4L573.5 289.7L576.9 291.8L575.6 293.8L578.2 296.9L577.8 299.0L579.9 300.8L579.0 302.0L582.6 304.2L579.8 308.4L576.0 310.4M576.9 313.2L575.9 315.1L576.3 316.5L576.3 318.5M569.8 317.6L571.8 317.3L574.6 318.7L576.3 318.5M576.3 318.5L577.5 319.2L578.6 322.4M563.4 322.6L565.6 321.7L571.6 321.7L575.5 323.6M575.5 323.6L578.6 322.4M575.5 323.6L574.1 325.8L573.7 327.5L571.4 328.6L569.4 328.5M569.4 328.5L567.8 327.3M567.8 327.3L567.5 325.8L564.2 324.8M560.9 327.1L567.8 327.3M569.4 328.5L570.7 332.0L569.3 333.1L570.6 335.4M570.6 335.4L571.8 337.2L571.6 337.9L568.9 340.9L568.9 342.2M568.9 342.2L565.3 341.3L563.3 341.9L561.9 340.8L560.5 341.0M560.5 341.0L558.4 339.5L555.9 338.5L554.3 337.8L551.1 337.2M551.1 337.2L550.8 333.7L549.3 331.5L549.3 328.6M551.1 337.2L547.2 338.3L545.2 338.8L546.2 340.5L549.3 343.2M549.3 343.2L551.9 342.5L556.4 343.6M556.4 343.6L560.5 341.0M556.4 343.6L557.0 345.3M557.0 345.3L560.8 345.9L563.4 344.8L568.1 344.2M568.1 344.2L568.9 342.2M568.1 344.2L570.0 345.3M570.0 345.3L568.1 346.8L566.5 349.9L564.5 350.8M564.5 350.8L561.4 351.2M561.4 351.2L558.5 351.4L555.8 349.7M555.8 349.7L554.8 348.6M554.8 348.6L555.6 346.5L557.0 345.3M554.8 348.6L551.3 349.9L549.5 349.7M549.5 349.7L546.5 349.1L546.0 348.2L543.3 348.8L542.0 348.6M542.0 348.6L539.9 347.3L539.9 346.8M539.9 346.8L542.0 346.8L545.9 346.3L547.4 346.2L547.6 344.5L549.3 343.2M539.9 346.8L537.6 346.1L535.5 346.5M535.5 346.5L534.1 347.1L532.2 350.2L533.8 349.9L534.4 351.4M534.4 351.4L537.5 349.9L538.8 351.5L539.5 349.8L542.0 348.6M534.4 351.4L533.5 353.7L534.4 356.2L535.7 357.5M535.5 346.5L535.4 344.8L536.7 342.6L532.6 341.2M532.6 341.2L531.3 340.9L529.1 339.2L527.6 339.7L523.9 336.5M525.8 335.8L529.1 335.5L531.3 336.3L531.0 337.4L531.6 337.5M531.6 337.5L532.0 339.2L532.6 341.2M531.6 337.5L531.8 335.1L533.3 334.1L533.8 332.8L534.0 330.4M537.0 325.8L538.7 326.0M497.7 363.1L499.2 363.2L502.9 362.9L503.8 364.1L502.2 365.7L502.2 367.9L501.8 369.5L500.7 369.7L501.9 371.6L501.0 373.3L501.9 373.9L500.5 375.8L500.7 376.9M514.1 358.7L515.1 359.7L516.7 360.1L519.9 360.7L522.4 361.3L525.6 361.5M549.5 349.7L549.3 351.7L549.6 352.3M549.6 352.6L553.3 352.7L554.1 351.5L555.8 349.7M561.9 354.4L557.0 353.3L554.5 353.4L554.4 354.6L555.6 356.3L559.0 359.7L561.1 361.1M561.4 351.2L561.9 353.4L561.9 354.4M561.9 354.4L562.8 356.0L563.3 358.1L562.6 358.4M562.6 358.4L561.6 359.2L561.1 361.1M562.6 358.4L565.4 360.3L564.8 361.1M564.8 361.1L563.3 363.2M564.8 361.1L566.2 363.0L566.1 364.8L567.4 366.1M567.4 366.1L566.8 368.3L565.3 369.5M567.4 366.1L571.8 364.7M566.2 362.8L568.3 362.0L570.2 361.9M570.2 361.9L571.8 364.7M571.8 364.7L575.4 364.1L579.2 364.7L579.7 363.6M579.7 363.6L580.4 364.8L579.2 366.4M579.7 363.6L582.3 362.6L583.4 362.8M570.2 361.9L571.4 359.4L569.9 356.9L570.4 356.3M570.4 356.3L571.3 357.5L576.9 357.9L581.0 356.6L584.2 357.6M570.4 356.3L569.8 354.9L567.4 354.4L567.5 353.4L564.5 350.8M570.0 345.3L574.5 346.1L578.3 344.6M578.3 344.6L582.1 348.6L582.8 352.7M582.8 352.7L586.2 353.1M578.3 344.6L580.8 344.0L584.1 345.5L586.2 348.8L586.8 349.9L584.3 351.1L582.8 352.7M570.6 335.4L574.0 334.1L578.4 335.1L582.8 335.1L585.9 335.9L586.4 333.8L588.3 333.7M578.6 322.4L584.6 323.9L585.4 326.4L589.7 329.9L586.8 330.8L588.3 333.7M588.3 333.7L592.6 333.0L596.7 336.6L597.5 338.5L603.1 339.9L607.9 340.8L608.1 345.8L605.1 347.9M502.5 325.4L500.7 326.9L502.4 327.9L504.6 328.0M610.7 358.7L616.6 359.2L620.2 361.1L623.9 361.3L626.4 363.0M626.4 363.0L629.9 365.1L631.4 363.2M615.2 364.2L617.4 364.4L619.8 365.4M619.8 365.4L623.3 364.8M623.3 364.8L626.4 365.1L626.4 363.0M619.8 365.4L620.7 368.2L623.6 369.7M623.3 364.8L625.0 366.3L626.2 368.0L627.7 369.9L628.0 371.9M623.6 369.7L623.2 373.3L624.6 377.0M623.6 369.7L628.0 371.9L630.7 369.7L632.1 370.4L631.6 372.2L633.8 373.2M604.1 380.7L605.7 379.7L605.6 378.1L608.7 377.9L615.0 377.2L618.9 377.2M618.9 377.2L624.6 377.0M618.9 377.2L617.1 384.0L616.7 385.2L611.8 388.3M611.8 388.3L607.4 391.4L604.6 390.2M602.9 389.0L604.7 388.1L606.2 385.7L604.6 384.4M604.6 390.2L604.7 388.1M604.6 390.2L604.5 393.7L603.7 399.5M601.4 394.6L603.4 399.7M603.7 400.1L606.4 400.6L609.6 398.2L610.7 396.7L608.0 393.7L612.7 392.3L613.1 391.8M613.1 391.8L611.8 388.3M613.1 391.8L616.1 392.6L620.5 394.9L627.4 400.6L632.0 400.9M632.0 400.9L633.9 398.2L635.2 398.2M632.0 400.9L635.0 402.5L636.7 402.5M624.6 377.0L626.8 380.6L628.7 383.1L627.7 384.1L627.5 386.5L629.5 389.3L632.7 390.9L634.2 393.2L634.1 395.2L635.1 396.9L636.6 398.3M625.8 438.5L627.2 435.1L629.7 435.5L635.6 435.8L639.1 433.3L641.2 432.0L648.4 430.8M648.4 430.8L655.6 427.8L656.7 421.9L655.4 419.8M655.4 419.8L648.8 419.1L646.0 415.2M655.4 419.8L656.4 415.2L657.6 413.3M648.4 430.8L651.7 437.7M643.8 413.8L645.1 414.4M646.2 376.4L648.3 376.3L651.3 374.2L653.9 374.5L658.8 376.3L661.1 378.6L663.8 378.5L664.5 381.5M664.5 381.5L663.9 386.3L663.9 387.2L665.9 393.7L667.9 394.0L666.5 395.7L666.6 398.6M666.6 398.6L669.1 402.0L672.1 403.4L672.5 406.1L673.6 406.5L673.7 407.8L670.6 409.3L670.4 412.4M666.6 398.6L670.8 400.1L674.7 400.1L679.9 398.5L679.5 395.5L682.5 394.3L686.1 392.6L686.0 389.3L687.7 388.3L686.5 386.3L689.0 385.3L689.7 382.2L689.0 379.5L695.5 377.4M664.5 381.5L667.3 382.6L669.2 380.9L672.0 379.5L674.0 376.6L676.1 376.4M676.1 376.4L679.4 377.0M679.4 377.0L683.1 375.7L684.7 375.8L684.6 374.1L687.0 373.8L688.4 377.5L689.3 378.4L692.2 376.1L696.2 376.7M676.1 376.4L669.7 371.9L664.7 368.6L662.9 365.4L659.6 365.1L657.7 362.2L654.1 360.6L652.7 362.3L650.9 363.2L651.6 364.8L648.9 364.8M648.9 364.8L647.7 365.0L645.6 362.6L643.9 361.7L641.4 362.5L640.6 363.5M648.9 364.8L646.7 354.0L652.0 352.4L658.7 355.7L661.5 358.4L668.0 357.8L671.3 359.8L671.8 362.8L674.1 365.2L677.0 365.2L679.0 366.7L679.4 364.5L683.1 362.0M679.4 377.0L680.0 373.9L677.0 370.1L679.4 369.9L680.2 368.3L683.9 368.0L682.9 365.5L685.9 364.5L689.1 366.1L686.6 368.2L684.2 368.8L681.8 369.9M683.1 362.0L683.8 362.2L681.9 363.9L685.1 365.4M681.8 369.9L685.4 370.4L691.6 370.2M691.6 370.2L691.9 368.6L693.6 367.6L698.0 365.5L700.9 365.1L704.9 362.6M683.1 362.0L684.8 360.3L688.9 361.3L689.8 359.0L693.5 360.1L701.7 360.3L704.9 362.6M691.6 370.2L693.0 373.0L695.2 373.3L696.2 376.7M704.9 362.6L704.1 360.1L705.3 359.2L701.8 354.3L706.8 352.4L706.7 347.3L711.4 348.2L712.2 346.9L711.2 344.0L713.0 343.8L714.0 341.9M714.0 341.9L712.1 340.0L709.3 340.5L707.9 339.3L706.1 338.8L703.1 336.6L700.1 337.3L696.4 335.6L695.9 337.2L688.1 330.0L685.0 326.9L684.4 327.8L680.6 329.6L678.5 329.7L678.1 328.2L674.9 327.2L673.0 327.9L671.3 325.1L667.0 324.4L665.6 325.7L660.5 326.7L659.7 327.3L651.9 328.3L651.1 329.3L653.4 331.3L651.5 332.0L652.6 334.1L654.4 337.3L651.3 337.2L650.9 338.0L647.6 336.6L644.1 336.6L642.0 337.9L639.2 336.8L633.7 334.8L630.3 334.8L626.5 337.9L626.8 340.0L624.0 338.3L622.9 341.5L623.7 342.0L622.8 344.2L625.2 346.2L626.8 346.1L628.7 347.9L628.8 349.5L630.0 349.9M714.0 341.9L714.8 341.6L716.9 341.2L720.2 338.8L723.0 337.3L727.6 338.2L729.7 339.6L735.5 340.3L736.8 338.5L735.2 336.8L736.0 333.8L738.9 334.9L744.1 336.1L745.6 338.2L749.4 339.3L753.9 338.5L756.3 338.9L759.1 340.2L761.1 341.6L763.2 341.6L766.2 342.0L770.7 340.9L772.9 338.9L774.5 339.2L778.7 339.9M714.8 341.6L716.1 343.6L718.6 345.2L722.3 346.2L724.8 348.5L725.2 352.0L726.8 353.7L732.7 354.1L737.6 356.2L739.7 359.0L741.6 360.6L744.2 360.6L749.2 361.3L752.2 360.9L754.7 361.3L758.7 363.0L761.5 363.0L762.9 363.9L765.1 362.3L768.4 361.3L771.8 361.3L774.1 360.3L775.1 358.7L776.3 357.6L774.3 355.6L774.5 353.7L776.1 354.0L778.6 354.6L780.2 353.0L783.1 352.0L783.0 349.9L785.1 349.2L790.3 349.1L789.6 348.1L786.7 346.1L784.5 345.2L783.3 346.2L780.8 345.8L779.7 346.1L778.6 344.9L778.7 342.0L778.7 339.9M778.7 339.9L782.0 341.0L784.1 339.2L783.3 337.9L783.6 334.9L784.3 333.9L783.3 332.5L781.8 331.8L782.7 330.4L785.1 329.9L787.9 329.9L791.7 330.7L794.3 331.7L797.4 334.5L799.1 335.8L800.9 337.5L803.3 340.3L807.8 341.2L811.6 343.2L814.1 345.9L817.5 345.9L818.7 344.8L821.9 343.9L822.3 346.5L822.1 347.6L823.1 350.8L823.2 353.6L820.2 353.1L818.7 354.1L820.6 356.6L822.0 360.0L820.9 360.1L821.5 361.6M821.5 361.6L819.3 359.8L819.2 361.6L816.2 362.8L817.3 364.4L813.8 363.3L813.1 365.4L811.2 367.0L810.1 368.8M817.1 375.3L818.7 374.7L818.7 373.6L821.4 373.5L821.4 372.7M787.3 423.2L784.6 422.5L783.2 421.3L783.2 419.5L780.8 418.9L779.5 417.9L777.7 419.5L775.3 419.8L773.3 419.8L772.1 420.6M772.1 420.6L771.1 421.0L771.8 424.4L770.1 423.2M770.1 423.2L767.5 423.1L765.1 421.6L765.4 419.1L763.6 418.5L762.5 415.8L760.0 416.3L759.5 412.7L761.5 410.4L760.5 405.6L759.2 404.9L757.9 403.1L756.7 403.4M756.7 403.4L756.3 405.0L755.0 406.3L752.7 410.1L751.9 412.6L752.0 413.9L751.4 416.4L749.4 415.7L749.8 418.8L749.4 419.8L748.6 421.9M748.6 421.9L748.6 425.8M748.6 421.9L745.9 419.0L744.2 417.5L744.7 415.8L745.7 415.5L746.5 413.2L740.2 412.3L739.7 410.2L738.4 410.1L736.2 408.7L735.7 410.8L737.8 412.3L736.5 413.5L736.2 414.5L737.8 415.2L737.7 417.0L739.0 419.2L739.7 421.8L739.9 422.9M736.3 406.2L739.0 408.0L744.7 407.5L744.2 405.8L743.1 404.9L740.5 404.0L737.4 404.0L736.3 406.2M714.1 401.8L716.7 402.9L719.3 404.4L722.8 406.1L726.3 406.5L727.9 407.8L729.8 408.1L733.0 408.9L735.0 408.9L734.2 404.4M734.2 404.4L731.6 404.3L729.1 404.3L728.4 403.5L726.2 402.2L724.2 401.6L723.1 400.3L721.7 399.8L718.8 397.9L716.6 397.0L715.7 397.6L714.5 398.9L714.1 401.8M715.7 397.6L711.9 395.5L709.2 393.7L707.8 390.5M734.2 404.4L735.7 403.8L736.3 406.2M743.1 404.9L745.0 404.4L746.7 402.2L749.1 400.3L751.3 401.0L752.8 399.8L754.5 401.8L756.7 403.4M687.3 416.9L688.6 414.9L694.1 414.9L693.2 412.4L691.6 410.9L690.9 408.6L689.1 407.2L691.3 404.1L694.3 404.4L696.2 401.3L697.2 398.3L699.0 395.5L698.6 393.2L700.3 391.5L698.1 390.0M767.9 457.5L769.1 452.0L768.2 446.0L766.3 443.8L765.5 442.3L766.3 441.7L766.9 439.1L765.6 437.1L763.7 435.1L762.2 432.4L763.1 432.0L763.8 428.7L765.6 428.6L766.8 427.2L768.1 426.6M768.1 426.6L769.1 425.5L770.1 423.2M768.1 426.6L769.7 429.3L771.5 429.5L771.4 432.6L771.8 435.2L774.1 433.4L775.0 433.9L776.5 433.9L778.7 433.0L780.9 435.4L781.6 438.3L784.0 441.0L784.1 443.5L783.5 444.7M783.5 444.7L781.2 444.4L777.9 445.0L776.6 447.3L777.6 450.9L778.5 452.2M783.5 444.7L785.7 445.8L786.6 443.9L788.9 444.1M772.1 420.6L774.0 422.9L775.6 425.6L778.7 425.6L780.0 428.1L778.7 429.0L778.1 430.0L781.4 431.8L783.9 435.2L786.0 437.9L788.1 439.9L789.0 442.0L788.9 444.1M788.9 444.1L789.8 446.9L789.9 450.4L785.9 452.8L787.2 454.5L784.5 454.7L782.8 456.2M772.5 467.8L772.9 467.2L775.0 468.5L775.3 470.0L776.9 469.7L777.6 468.5M797.3 480.9L797.7 482.8L799.5 484.6L801.1 483.9L802.8 484.2L804.3 482.7L807.9 483.3L809.9 482.5L811.2 478.6L812.1 477.5L812.8 474.1L815.8 474.1L818.1 474.6M808.6 473.6L809.7 475.0L811.4 474.0L811.7 472.2M877.0 494.5L875.7 513.6M835.1 513.0L835.3 514.5M513.0 383.1L514.0 384.9L514.1 386.6L514.9 389.7L515.6 390.3L515.2 391.5L512.0 392.0L509.5 393.3L509.4 395.5L506.5 396.7L505.5 398.2L503.6 398.9L501.1 399.4L497.2 401.6L497.0 405.1M497.0 405.1L497.0 406.2M497.0 406.2L496.9 410.4L488.7 410.1L488.6 417.6L486.0 418.9L485.8 419.7L485.9 423.8L476.1 423.8L475.8 425.5M497.0 406.2L506.4 413.2M506.4 413.2L502.4 413.2L504.3 441.1L494.8 441.3L490.9 442.3L489.4 440.7L487.6 443.6M487.6 443.6L484.8 440.5L482.9 438.8L481.6 437.9L477.8 438.3L476.8 439.5M487.6 443.6L487.9 445.8L489.4 448.7L489.5 450.3M489.5 450.3L486.7 450.4L483.7 449.7M483.7 449.7L479.0 449.5L476.1 450.4M475.9 446.7L479.5 446.0L483.4 447.0L479.4 447.6L475.9 448.2M483.7 449.7L483.7 452.3L481.1 452.9L480.3 454.5M489.5 450.3L492.5 450.9L494.8 450.4L497.3 454.3L496.5 455.0L498.0 456.8M484.7 460.1L486.8 457.8L490.1 457.3L491.4 459.6L492.3 462.1M492.3 462.1L494.5 462.1L494.6 464.4L496.9 464.4M496.9 464.4L498.9 462.1L498.0 456.8M492.3 462.1L489.1 466.3M496.9 464.4L496.7 467.8L499.1 471.2L499.1 473.8M498.0 456.8L502.6 455.7L504.4 456.0M504.4 456.0L507.4 458.5L511.2 458.5M511.2 458.5L511.3 463.5L510.0 468.4L510.4 471.8M511.2 458.5L511.0 454.5L517.9 454.1M517.9 454.1L519.2 456.8L519.4 461.2L520.1 462.4L519.7 466.3L521.3 468.8M517.9 454.1L520.6 454.5M520.6 454.5L521.8 457.9L522.5 460.0L522.5 468.4M520.6 454.5L523.7 451.6L524.4 451.7M524.4 451.7L527.4 452.3M527.4 452.3L527.7 457.1L525.3 463.7L525.2 468.1M504.4 456.0L505.1 453.2L507.2 449.8L509.3 447.5L510.9 446.1L513.3 443.9L518.9 442.9M518.9 442.9L519.4 445.6L520.8 447.5L523.9 449.8L524.4 451.7M518.9 442.9L521.8 441.7L527.5 441.0L529.0 437.1L528.9 430.3M506.4 413.2L521.2 424.6L526.2 428.7L526.2 430.6L528.9 430.3M528.9 430.3L532.5 429.0L536.9 425.3L548.0 417.5M548.0 417.5L546.9 415.7L543.6 414.2L542.5 408.6L542.4 401.3L541.4 397.3M541.4 397.3L540.2 392.0L538.3 390.0L536.6 388.3L537.8 384.4L538.4 381.9L538.7 377.6M541.4 397.3L543.2 395.2L544.0 393.0L546.0 391.2L546.0 388.9M548.0 417.5L553.5 420.4L555.5 418.9M555.5 418.9L578.3 429.3M578.3 429.3L578.2 427.8L580.7 427.8L580.5 421.9M580.5 421.9L579.3 400.6L578.5 398.2L579.2 393.3M580.5 421.9L610.1 421.9M555.5 418.9L556.9 424.9L558.0 426.6L557.2 437.0L554.5 440.5L552.6 444.1L552.6 446.4M552.6 446.4L549.9 448.4L544.0 447.6L541.0 449.1L538.0 447.5L535.5 448.2L532.0 446.0L529.3 446.3L528.6 447.0L527.4 452.3M552.6 446.4L554.2 450.0M554.2 450.0L555.2 452.9L552.7 455.0L552.0 457.1L550.8 461.2L549.2 462.4L548.3 465.0L548.1 466.2L545.0 466.0L541.7 467.8L539.9 472.8M554.2 450.0L556.0 450.9L556.5 454.7L557.4 457.5L553.8 458.5L557.1 464.9M557.1 464.9L560.7 464.7L564.0 463.5L566.2 461.3L566.7 460.1L569.1 460.3L573.2 455.7L576.1 454.4M576.1 454.4L575.2 450.7L573.7 449.7L574.6 447.5L575.0 445.3L574.5 444.7L576.0 440.5L578.4 440.8L578.3 429.3M557.1 464.9L555.3 468.0L555.0 470.8L556.6 475.5L559.0 480.2L559.5 480.3M559.5 480.3L558.8 481.6L555.2 480.6L552.0 480.3M552.0 480.3L547.0 480.3M547.0 480.3L543.2 480.0M547.0 480.3L547.1 483.7L542.7 483.9M552.0 480.3L552.1 483.0L554.7 483.3L555.1 490.6L554.9 493.6L551.4 493.9L550.5 492.2L547.7 493.9L548.6 497.0L546.5 498.4M559.5 480.3L560.3 477.4L565.6 476.5M565.6 476.5L565.5 474.1L567.7 471.9L571.6 474.1L575.3 474.9L576.4 473.0L580.3 471.8L582.6 472.1L587.9 471.5M576.1 454.4L577.9 457.1L577.9 460.3L580.6 462.7L582.0 464.7L584.8 467.5L587.9 471.5M578.9 461.5L580.5 460.6L581.9 456.6L585.4 458.7L589.3 459.1L591.8 458.5L594.3 456.5L596.5 458.2L599.3 451.5L602.2 450.9L602.1 455.1L604.3 459.0L604.7 458.8M604.7 458.8L605.1 455.6L606.7 454.7L606.8 452.0L609.6 449.4L610.3 446.9L610.4 444.7M610.4 444.7L610.1 442.2L611.2 436.7L615.0 433.7M610.4 444.7L613.7 442.9L616.8 443.6L619.1 444.2L621.7 446.7L625.4 450.1M625.4 450.1L627.2 449.4M625.4 450.1L623.9 452.9L624.1 454.4L627.0 454.5L627.7 452.9M627.0 454.5L626.5 455.6L628.5 458.8L629.8 460.3L637.5 463.2L640.1 463.2L632.7 472.1L627.6 473.3L624.8 475.2M624.8 475.2L622.0 474.3L618.8 476.6L615.2 476.2L612.1 473.8L609.6 473.3M609.6 473.3L608.0 470.9L606.4 467.2L602.8 462.9L602.0 463.8L604.5 461.8L604.7 458.8M624.8 475.2L622.6 478.4L622.6 489.3L624.0 491.7M609.6 473.3L604.7 474.4M604.7 474.4L606.0 476.2L607.2 480.9L607.2 481.9L605.1 485.6L604.6 486.5L604.6 489.7M604.6 489.7L613.9 495.6L614.4 497.5L618.0 500.5M604.7 474.4L602.2 475.3L599.7 476.2L596.8 476.5M596.8 476.5L596.5 479.6L597.9 480.5L594.5 484.3L593.6 488.6L593.6 490.9M593.6 490.9L595.9 489.9L604.6 489.7M587.9 471.5L590.5 474.1L593.3 473.1L596.8 476.5M593.6 490.9L592.1 494.7M595.9 489.9L596.8 493.6L596.0 493.9M592.1 494.7L596.0 493.9M596.0 493.9L596.5 496.7L593.0 499.9M592.1 494.7L593.0 499.9M593.0 499.9L593.5 505.2L596.3 510.9M596.3 510.9L601.8 514.5M601.8 514.5L604.3 515.4L605.5 520.8L606.7 520.9M606.7 520.9L613.1 521.3L615.7 520.4L620.7 517.7M606.7 520.9L605.6 526.9L608.6 530.7L607.1 534.0L606.9 537.2L604.8 534.5L604.7 529.2L602.0 528.0M601.8 514.5L602.6 518.6L602.2 523.6L600.8 527.0L602.0 528.0M602.0 528.0L594.4 530.4L594.8 532.9M594.8 532.9L591.0 534.0L586.0 539.7L581.6 539.3M596.3 510.9L591.6 511.7L590.3 514.0L590.8 518.3L590.0 521.6L591.7 523.3L593.6 522.6L593.5 526.4L589.9 523.5L587.1 521.0L582.6 519.8L580.0 519.9L579.0 518.9M579.0 518.9L578.9 525.1L573.8 525.1L573.6 534.5L577.0 538.7M577.0 538.7L581.6 539.3M579.0 518.9L574.5 519.5L574.8 517.4L573.7 514.8L573.8 508.3L570.3 507.4L567.8 507.4L566.5 510.2L563.0 510.7L560.5 504.2L551.3 504.0L549.9 504.5M547.9 537.6L553.2 538.1L564.6 538.1L571.9 539.7L577.0 538.7M581.6 539.3L579.3 539.9L576.7 539.9L570.9 540.7L570.5 551.7L568.0 551.7L567.7 559.8M567.7 559.8L567.2 570.7L560.8 571.6L558.7 571.3M567.7 559.8L569.4 565.9L574.0 563.8L575.1 561.5L581.4 562.4L584.7 558.4L588.6 553.5L591.3 552.3M591.3 552.3L587.4 547.3L583.7 543.7L581.6 539.3M591.3 552.3L596.1 552.9M596.1 552.9L599.0 549.6L600.7 545.2L600.1 542.5L601.2 537.9L600.9 536.0L597.0 534.0L594.8 532.9M596.1 552.9L597.4 559.1L597.0 563.4M597.0 563.4L595.5 562.8L594.0 565.6L595.1 567.4L597.2 565.9L597.0 563.4M584.1 574.2L586.8 571.7L589.0 571.8L590.0 573.6L588.9 575.7L586.9 577.2L585.0 576.3L584.1 574.2M597.2 565.9L599.2 566.1M565.6 476.5L564.3 480.3L563.7 483.9L563.3 488.3L559.5 493.3L559.0 497.1L556.9 499.5L554.9 501.1L551.6 500.3L550.8 499.8L548.8 501.5M550.8 499.8L551.6 500.5L550.1 503.6L549.3 503.7"/>
<path fill="none" stroke="#444" stroke-width="1" stroke-dasharray="1.2 3" d="M698.1 390.0L696.8 388.0L695.4 385.5L696.3 384.1L700.1 384.9L702.6 384.4L704.4 381.9M707.8 390.5L709.7 390.8L709.4 389.3L708.1 387.8L707.8 385.5L704.4 381.9L700.2 380.7L699.0 378.5L696.8 377.0L696.2 376.7M707.8 385.5L710.0 381.9L704.4 380.4M497.0 405.1L485.9 405.2"/>
<g class="bb" fill="#26adad">
<circle cx="227.4" cy="374.9" r="9.3"/>
<circle cx="284.0" cy="389.65" r="23.7"/>
<circle cx="314.7" cy="387.2" r="26.0"/>
<circle cx="302.7" cy="382.9" r="18.9"/>
<circle cx="302.9" cy="383.1" r="17.6"/>
<circle cx="315.1" cy="385.8" r="12.9"/>
<circle cx="313.8" cy="362.6" r="13.8"/>
<circle cx="330.5" cy="366.5" r="15.7"/>
<circle cx="344.7" cy="364.9" r="14.7"/>
<circle cx="314.3" cy="373.7" r="13.5"/>
<circle cx="561.5" cy="347.1" r="17.7"/>
<circle cx="564.1" cy="333.6" r="8.9"/>
<circle cx="562.5" cy="338.0" r="5.3"/>
<circle cx="540.0" cy="328.9" r="7.7"/>
<circle cx="539.7" cy="335.4" r="4.8"/>
<circle cx="533.3" cy="335.4" r="4.5"/>
<circle cx="516.05" cy="333.7" r="6.7"/>
<circle cx="515.3" cy="331.8" r="4.8"/>
<circle cx="515.5" cy="332.0" r="4.4"/>
<circle cx="515.0" cy="331.6" r="4.0"/>
<circle cx="516.0" cy="332.6" r="3.4"/>
<circle cx="529.7" cy="334.4" r="7.4"/>
<circle cx="528.5" cy="334.1" r="4.8"/>
<circle cx="528.2" cy="333.8" r="4.2"/>
<circle cx="529.0" cy="334.4" r="3.6"/>
<circle cx="532.0" cy="334.7" r="4.5"/>
<circle cx="523.0" cy="343.1" r="7.1"/>
<circle cx="523.3" cy="341.5" r="3.5"/>
<circle cx="527.8" cy="351.7" r="5.8"/>
<circle cx="538.4" cy="353.3" r="7.4"/>
<circle cx="535.2" cy="352.1" r="3.9"/>
<circle cx="541.0" cy="352.4" r="3.9"/>
<circle cx="538.4" cy="353.0" r="5.1"/>
<circle cx="536.5" cy="352.5" r="3.3"/>
<circle cx="540.0" cy="353.0" r="3.3"/>
<circle cx="534.9" cy="343.1" r="4.0"/>
<circle cx="552.1" cy="365.9" r="5.8"/>
<circle cx="547.0" cy="362.6" r="4.1"/>
<circle cx="521.7" cy="334.0" r="4.6"/>
<circle cx="545.2" cy="355.6" r="3.4"/>
<circle cx="519.5" cy="337.5" r="4.0"/>
<circle cx="714.3" cy="448.4" r="15.4"/>
<circle cx="715.0" cy="434.9" r="4.2"/>
<circle cx="700.2" cy="429.8" r="5.8"/>
<circle cx="702.4" cy="431.1" r="4.2"/>
<circle cx="699.6" cy="393.1" r="3.6"/>
<circle cx="717.2" cy="407.3" r="3.6"/>
<circle cx="802.2" cy="420.9" r="14.66"/>
</g>
</svg><!--/MAP-->
<div class="rule"></div>
<div class="t" id="t1" style="top:79.7px;left:66px;letter-spacing:-0.55px">Where have airport equipment supply, product and</div>
<div class="t" id="t2" style="top:118.1px;left:64.5px;letter-spacing:-0.77px">services companies been hiring for AI roles?</div>
<div class="s" id="s1" style="top:164px;left:65px;letter-spacing:0.935px">Top cities for AI jobs in the airport equipment supply, product and services</div>
<div class="s" id="s2" style="top:198.3px;left:65px;letter-spacing:0.88px">sector in the three months ending March</div>
<div class="src" id="src">Source: GlobalData</div>
</body></html>
